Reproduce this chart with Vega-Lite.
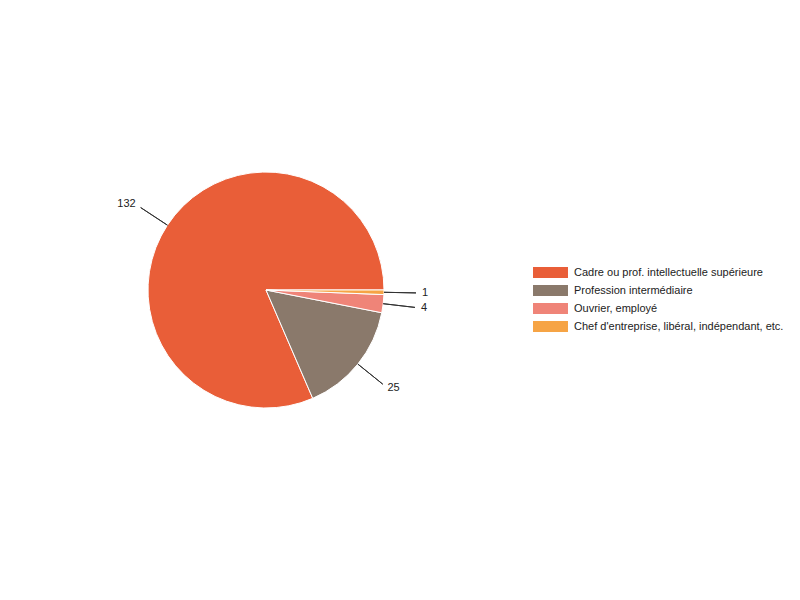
{
  "$schema": "https://vega.github.io/schema/vega-lite/v6.json",
  "width": 532,
  "height": 580,
  "autosize": "none",
  "padding": {"left": 0, "top": 0, "right": 268, "bottom": 20},
  "background": "white",
  "config": {
    "view": {"stroke": null},
    "font": "Liberation Sans",
    "text": {"font": "Liberation Sans"}
  },
  "data": {
    "values": [
      {"categorie": "Cadre ou prof. intellectuelle supérieure", "effectif": 132, "rang": 1},
      {"categorie": "Profession intermédiaire", "effectif": 25, "rang": 2},
      {"categorie": "Ouvrier, employé", "effectif": 4, "rang": 3},
      {"categorie": "Chef d'entreprise, libéral, indépendant, etc.", "effectif": 1, "rang": 4}
    ]
  },
  "transform": [
    {"stack": "effectif", "groupby": [], "offset": "normalize", "sort": [{"field": "rang"}], "as": ["v0", "v1"]},
    {"calculate": "(datum.v0 + datum.v1) / 2", "as": "mid"}
  ],
  "layer": [
    {
      "mark": {"type": "arc", "radius": 118, "stroke": "white", "strokeWidth": 1},
      "encoding": {
        "theta": {"field": "v0", "type": "quantitative", "scale": {"domain": [0, 1], "range": [1.5708, -4.7124]}},
        "theta2": {"field": "v1"},
        "color": {
          "field": "categorie",
          "type": "nominal",
          "sort": null,
          "scale": {
            "domain": ["Cadre ou prof. intellectuelle supérieure", "Profession intermédiaire", "Ouvrier, employé", "Chef d'entreprise, libéral, indépendant, etc."],
            "range": ["#e95e38", "#8a796b", "#ef8478", "#f6a445"]
          },
          "legend": {
            "title": null,
            "orient": "none",
            "legendX": 545,
            "legendY": 267,
            "padding": 0,
            "symbolType": "M-3.18,-1 L3.18,-1 L3.18,1 L-3.18,1 Z",
            "symbolSize": 121,
            "symbolStrokeWidth": 0,
            "symbolOpacity": 1,
            "labelOffset": 18,
            "labelFont": "Liberation Sans",
            "labelFontSize": 11,
            "labelColor": "#222222",
            "labelLimit": 400,
            "rowPadding": 6
          }
        }
      }
    },
    {
      "mark": {"type": "arc", "radius": 118, "radius2": 150, "fill": null, "stroke": "#333333", "strokeWidth": 1},
      "encoding": {
        "theta": {"field": "mid", "type": "quantitative", "scale": {"domain": [0, 1], "range": [1.5708, -4.7124]}},
        "theta2": {"field": "mid"}
      }
    },
    {
      "mark": {
        "type": "text",
        "radius": 156,
        "fontSize": 11,
        "color": "#222222",
        "baseline": "middle",
        "align": {"expr": "datum.mid > 0.25 && datum.mid < 0.75 ? 'right' : 'left'"}
      },
      "encoding": {
        "theta": {"field": "mid", "type": "quantitative", "scale": {"domain": [0, 1], "range": [1.5708, -4.7124]}},
        "text": {"field": "effectif", "type": "quantitative"}
      }
    }
  ]
}
